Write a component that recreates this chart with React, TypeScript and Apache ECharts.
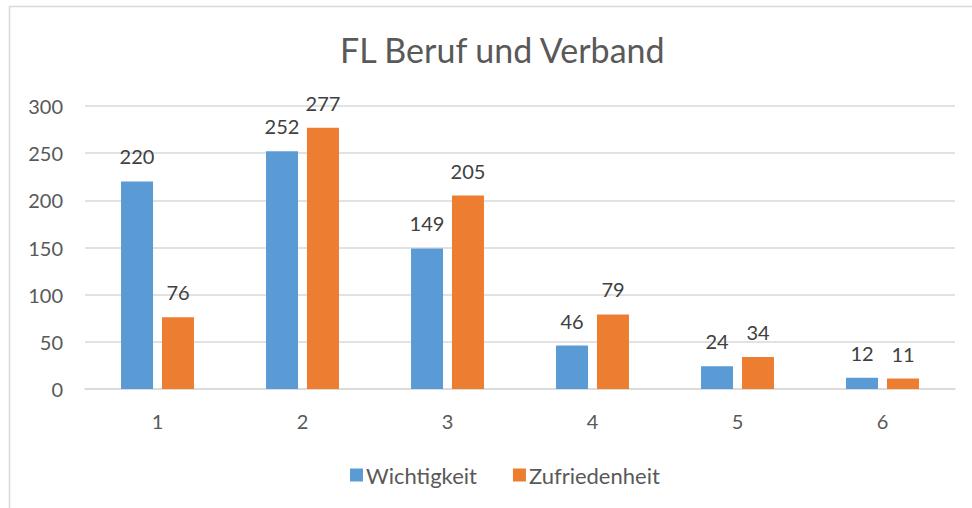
import React, { useEffect, useRef } from "react";
import * as echarts from "echarts";

const categories = ["1", "2", "3", "4", "5", "6"];
const wichtigkeit = [220, 252, 149, 46, 24, 12];
const zufriedenheit = [76, 277, 205, 79, 34, 11];
const seriesNames = ["Wichtigkeit", "Zufriedenheit"];
const titleText = "FL Beruf und Verband";

const FONT = "Lato, 'Open Sans', sans-serif";

export default function App() {
  const ref = useRef<HTMLDivElement>(null);
  useEffect(() => {
    if (!ref.current) return;
    const chart = echarts.init(ref.current, null, { renderer: "svg" });
    chart.setOption({
      animation: false,
      backgroundColor: "#ffffff",
      textStyle: { fontFamily: FONT },
      title: {
        text: titleText,
        left: 335,
        top: 27,
        textStyle: { fontFamily: FONT, fontSize: 34, fontWeight: "normal", color: "#595959" },
      },
      graphic: [
        {
          type: "rect",
          shape: { x: 9.5, y: 6.5, width: 1000, height: 600 },
          style: { fill: "none", stroke: "#d9d9d9", lineWidth: 1.5 },
          silent: true,
        },
      ],
      legend: {
        data: seriesNames,
        left: 345,
        top: 459,
        itemWidth: 13,
        itemHeight: 13,
        itemGap: 36,
        icon: "rect",
        textStyle: { fontFamily: FONT, fontSize: 22, color: "#595959", padding: [0, 0, 0, -2] },
      },
      grid: { left: 85, right: 17, top: 106, bottom: 119 },
      xAxis: {
        type: "category",
        data: categories,
        axisLine: { lineStyle: { color: "#d9d9d9", width: 1.5 } },
        axisTick: { show: false },
        axisLabel: { fontFamily: FONT, fontSize: 20, color: "#595959", margin: 22 },
      },
      yAxis: {
        type: "value",
        min: 0,
        max: 300,
        interval: 50,
        axisLine: { show: false },
        axisTick: { show: false },
        splitLine: { lineStyle: { color: "#d9d9d9", width: 1.5 } },
        axisLabel: { fontFamily: FONT, fontSize: 20, color: "#595959", margin: 22 },
      },
      series: [
        {
          name: seriesNames[0],
          type: "bar",
          data: wichtigkeit,
          barWidth: 32,
          barGap: "28%",
          itemStyle: { color: "#5b9bd5" },
          label: { show: true, position: "top", distance: 15, fontFamily: FONT, fontSize: 20, color: "#404040" },
        },
        {
          name: seriesNames[1],
          type: "bar",
          data: zufriedenheit,
          barWidth: 32,
          barGap: "28%",
          itemStyle: { color: "#ed7d31" },
          label: { show: true, position: "top", distance: 15, fontFamily: FONT, fontSize: 20, color: "#404040" },
        },
      ],
    });
    return () => chart.dispose();
  }, []);
  return (
    <div
      ref={ref}
      style={{ position: "fixed", left: 0, top: 0, width: 972, height: 508 }}
    />
  );
}
